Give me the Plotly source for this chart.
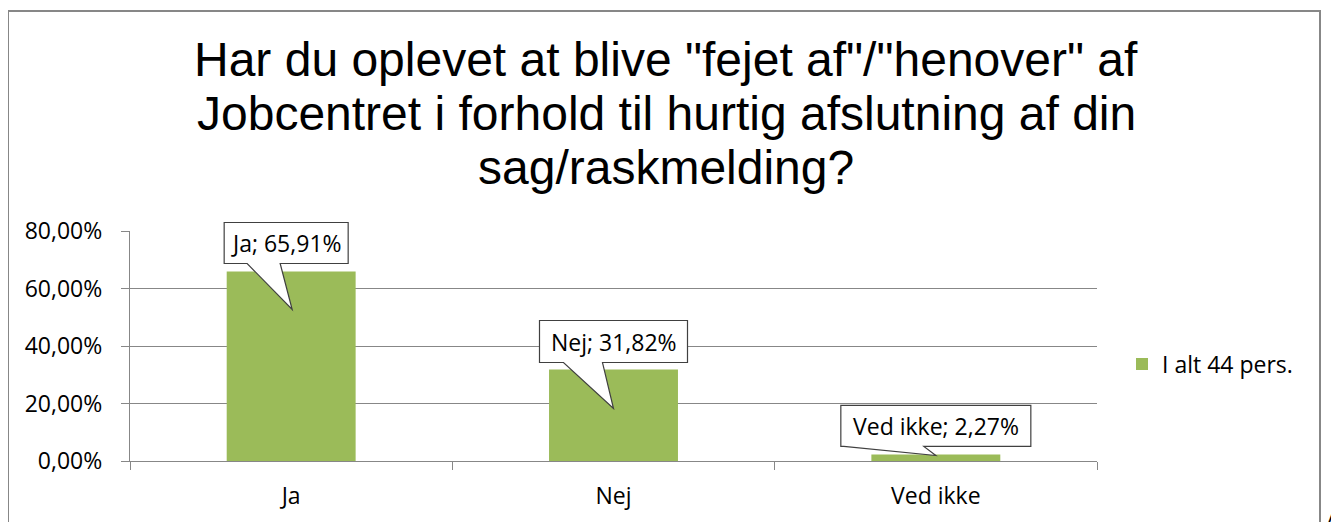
import plotly.graph_objects as go

# ---------------- data ----------------
categories = ["Ja", "Nej", "Ved ikke"]
values = [0.6591, 0.3182, 0.0227]
series_name = "I alt 44 pers."
title_lines = [
    'Har du oplevet at blive "fejet af"/"henover" af',
    'Jobcentret i forhold til hurtig afslutning af din',
    'sag/raskmelding?',
]
y_ticks = [0.0, 0.2, 0.4, 0.6, 0.8]
y_range = [0.0, 0.8]

# ---------------- style ----------------
GREEN = "#9BBB59"
GRID = "#878787"
CALLOUT_LINE = "#404040"
FONT = "Open Sans"
TITLE_FONT = "Liberation Sans, Arial"
FS = 23

OFF = 8  # page body margin
W, H = 1339 - OFF, 522 - OFF
L, R, T, B = 122, 242, 223, 61
PW, PH = W - L - R, H - T - B


def px_x(x):
    """reference-screen x pixel -> paper"""
    return (x - OFF - L) / PW


def px_y(y):
    """reference-screen y pixel -> paper"""
    return (H - B - (y - OFF)) / PH


# callout geometry (pixels relative to bar top centre, y up)
callout_geom = [
    dict(l=-67, r=57, t=49, b=8, bl=-44, br=-11, tx=1, ty=-38),
    dict(l=-74, r=74, t=49, b=7, bl=-50, br=-11, tx=0, ty=-39),
    dict(l=-95, r=95, t=49, b=8, bl=-92, br=-12, tx=0, ty=-1),
]

fig = go.Figure(
    go.Bar(
        x=categories,
        y=values,
        name=series_name,
        width=0.4,
        marker=dict(color=GREEN, line=dict(width=0)),
        showlegend=True,
        hoverinfo="skip",
    )
)

shapes = []
annotations = []
n = len(categories)
for i, (cat, v) in enumerate(zip(categories, values)):
    g = callout_geom[i]
    xa = (i + 0.5) / n
    ya = (v - y_range[0]) / (y_range[1] - y_range[0])
    path = (
        f"M{g['l']},{g['b']} L{g['bl']},{g['b']} L{g['tx']},{g['ty']} "
        f"L{g['br']},{g['b']} L{g['r']},{g['b']} L{g['r']},{g['t']} "
        f"L{g['l']},{g['t']} Z"
    )
    shapes.append(
        dict(
            type="path",
            xref="paper",
            yref="paper",
            xsizemode="pixel",
            ysizemode="pixel",
            xanchor=xa,
            yanchor=ya,
            path=path,
            fillcolor="white",
            line=dict(color=CALLOUT_LINE, width=1.2),
            layer="above",
        )
    )
    label = f"{cat}; {v * 100:.2f}%".replace(".", ",")
    annotations.append(
        dict(
            x=cat,
            y=v,
            xref="x",
            yref="y",
            text=label,
            showarrow=False,
            xshift=(g["l"] + g["r"]) / 2,
            yshift=(g["t"] + g["b"]) / 2,
            font=dict(family=FONT, size=FS, color="black"),
        )
    )

# chart border
shapes.append(
    dict(
        type="rect",
        xref="paper",
        yref="paper",
        x0=px_x(8),
        x1=px_x(1320),
        y0=px_y(540),
        y1=px_y(11),
        line=dict(color=GRID, width=2),
        fillcolor="rgba(0,0,0,0)",
        layer="below",
    )
)

# title lines
title_centres = [59.5, 113, 167]
for line, yc in zip(title_lines, title_centres):
    annotations.append(
        dict(
            x=px_x(666),
            y=px_y(yc),
            xref="paper",
            yref="paper",
            xanchor="center",
            yanchor="middle",
            text=line,
            showarrow=False,
            font=dict(family=TITLE_FONT, size=48, color="black"),
        )
    )

# stray glyph at bottom right edge
annotations.append(
    dict(
        x=px_x(1323),
        y=px_y(504),
        xref="paper",
        yref="paper",
        xanchor="left",
        yanchor="top",
        text="A",
        showarrow=False,
        font=dict(family=FONT, size=FS, color="black"),
    )
)

fig.update_layout(
    width=W,
    height=H,
    margin=dict(l=L, r=R, t=T, b=B, pad=0),
    paper_bgcolor="white",
    plot_bgcolor="white",
    separators=",.",
    shapes=shapes,
    annotations=annotations,
    bargap=0.6,
    legend=dict(
        x=px_x(1122),
        y=px_y(364),
        xanchor="left",
        yanchor="middle",
        font=dict(family=FONT, size=FS, color="black"),
        bgcolor="rgba(0,0,0,0)",
    ),
    xaxis=dict(
        range=[-0.5, 2.5],
        showline=True,
        linecolor=GRID,
        linewidth=1.3,
        ticks="outside",
        tickson="boundaries",
        ticklen=8,
        tickcolor=GRID,
        tickwidth=1.3,
        tickfont=dict(family=FONT, size=FS, color="black"),
        showgrid=False,
        ticklabelstandoff=14,
        fixedrange=True,
    ),
    yaxis=dict(
        range=y_range,
        tickvals=y_ticks,
        tickformat=".2%",
        showgrid=True,
        gridcolor=GRID,
        gridwidth=1.3,
        showline=True,
        linecolor=GRID,
        linewidth=1.3,
        ticks="outside",
        ticklen=8,
        tickcolor=GRID,
        tickwidth=1.3,
        zeroline=False,
        tickfont=dict(family=FONT, size=FS, color="black"),
        ticklabelstandoff=14,
        fixedrange=True,
    ),
)

fig.write_html("out.html")
